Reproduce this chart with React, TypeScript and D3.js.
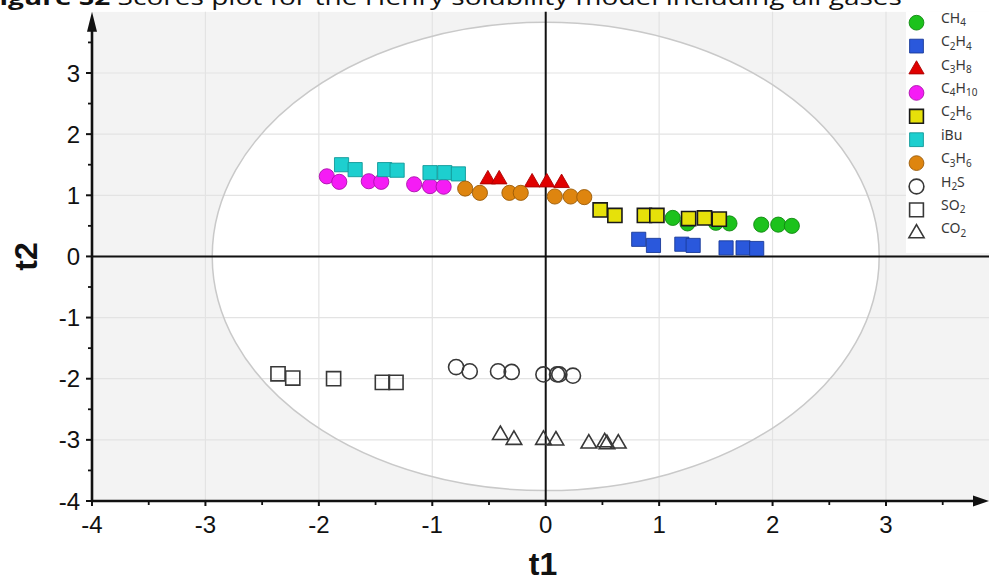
import * as d3 from "d3";

// scores [t1, t2]
const ch4 = [[1.12, 0.63], [1.25, 0.54], [1.5, 0.55], [1.62, 0.54], [1.9, 0.52], [2.05, 0.52], [2.17, 0.5]];
const c2h4 = [[0.82, 0.28], [0.95, 0.18], [1.2, 0.2], [1.3, 0.18], [1.59, 0.14], [1.74, 0.14], [1.86, 0.13]];
const c3h8 = [[-0.51, 1.26], [-0.41, 1.26], [-0.12, 1.21], [0.01, 1.21], [0.14, 1.2]];
const c4h10 = [[-1.93, 1.31], [-1.82, 1.22], [-1.56, 1.23], [-1.45, 1.22], [-1.16, 1.18], [-1.02, 1.15], [-0.9, 1.14]];
const c2h6 = [[0.48, 0.76], [0.61, 0.67], [0.87, 0.67], [0.98, 0.67], [1.26, 0.62], [1.4, 0.63], [1.53, 0.61]];
const ibu = [[-1.8, 1.5], [-1.68, 1.42], [-1.42, 1.42], [-1.31, 1.41], [-1.02, 1.37], [-0.89, 1.37], [-0.77, 1.35]];
const c3h6 = [[-0.71, 1.11], [-0.58, 1.04], [-0.32, 1.04], [-0.22, 1.04], [0.08, 0.98], [0.22, 0.98], [0.34, 0.97]];
const h2s = [[-0.79, -1.81], [-0.67, -1.88], [-0.42, -1.88], [-0.3, -1.89], [-0.02, -1.93], [0.1, -1.93], [0.12, -1.93], [0.24, -1.95]];
const so2 = [[-2.36, -1.92], [-2.23, -1.99], [-1.87, -2.0], [-1.44, -2.06], [-1.32, -2.06]];
const co2 = [[-0.4, -2.92], [-0.28, -3.0], [-0.02, -3.0], [0.09, -3.01], [0.38, -3.06], [0.52, -3.04], [0.54, -3.07], [0.64, -3.06]];

const xTicks = [-4, -3, -2, -1, 0, 1, 2, 3];
const yTicks = [-4, -3, -2, -1, 0, 1, 2, 3];
// Hotelling T2 ellipse half axes
const ellipseRadii = [2.94, 3.83];

const series = [
  { name: "CH4", data: ch4, shape: d3.symbolCircle, fill: "#1cc21c", stroke: "#118811" },
  { name: "C2H4", data: c2h4, shape: d3.symbolSquare, fill: "#2a58dc", stroke: "#1a3a99" },
  { name: "C3H8", data: c3h8, shape: d3.symbolTriangle, fill: "#e00000", stroke: "#aa0000" },
  { name: "C4H10", data: c4h10, shape: d3.symbolCircle, fill: "#f51cf5", stroke: "#aa10aa" },
  { name: "C2H6", data: c2h6, shape: d3.symbolSquare, fill: "#e6e10a", stroke: "#1a1a1a" },
  { name: "iBu", data: ibu, shape: d3.symbolSquare, fill: "#1dcfcf", stroke: "#119999" },
  { name: "C3H6", data: c3h6, shape: d3.symbolCircle, fill: "#de850f", stroke: "#9a5a08" },
  { name: "H2S", data: h2s, shape: d3.symbolCircle, fill: "none", stroke: "#383838" },
  { name: "SO2", data: so2, shape: d3.symbolSquare, fill: "none", stroke: "#383838" },
  { name: "CO2", data: co2, shape: d3.symbolTriangle, fill: "none", stroke: "#383838" },
];

const W = 989;
const H = 579;

const x = d3.scaleLinear().domain([-4, 3]).range([92, 886]);
const y = d3.scaleLinear().domain([-4, 3]).range([501, 73]);

const symSize = (shape: any) =>
  shape === d3.symbolCircle ? 180 : shape === d3.symbolSquare ? 200 : 105;

function Formula({ label, xPos, yPos }: { label: string; xPos: number; yPos: number }) {
  const parts = label.split(/(\d+)/).filter((p) => p !== "");
  return (
    <text x={xPos} y={yPos} dy="0.35em" fontSize={14} fill="#383838" fontFamily="'Noto Sans', sans-serif">
      {parts.map((p, i) =>
        /^\d+$/.test(p) ? (
          <tspan key={i} fontSize={10} dy={3.5}>{p}</tspan>
        ) : (
          <tspan key={i} dy={i > 0 && /^\d+$/.test(parts[i - 1]) ? -3.5 : 0}>{p}</tspan>
        )
      )}
    </text>
  );
}

export default function App() {
  const top = y(4);
  const right = W;
  const legendY = d3.scaleLinear().domain([0, series.length - 1]).range([22.7, 233.3]);

  return (
    <svg width={W} height={H} style={{ position: "absolute", left: 0, top: 0, background: "#fff" }}
      fontFamily="'Liberation Sans', Arial, sans-serif">
      {/* title, cut off at the top of the picture */}
      <text x={-16} y={5} fontSize={22} fill="#111" fontFamily="'Open Sans', sans-serif"
        textLength={918} lengthAdjust="spacingAndGlyphs">
        <tspan fontWeight="bold">Figure S2</tspan>
        <tspan> Scores plot for the Henry solubility model including all gases</tspan>
      </text>

      {/* plot background and confidence ellipse */}
      <rect x={x(-4)} y={top} width={right - x(-4)} height={y(-4) - top} fill="#f3f3f3" />
      <ellipse cx={x(0)} cy={y(0)} rx={x(ellipseRadii[0]) - x(0)} ry={y(0) - y(ellipseRadii[1])} fill="#fff" />

      {/* grid */}
      {xTicks.filter((t) => t > -4).map((t) => (
        <line key={`gx${t}`} x1={x(t)} x2={x(t)} y1={top} y2={y(-4)} stroke="#e3e3e3" strokeWidth={1.2} />
      ))}
      {yTicks.filter((t) => t > -4).map((t) => (
        <line key={`gy${t}`} x1={x(-4)} x2={right} y1={y(t)} y2={y(t)} stroke="#e3e3e3" strokeWidth={1.2} />
      ))}
      <ellipse cx={x(0)} cy={y(0)} rx={x(ellipseRadii[0]) - x(0)} ry={y(0) - y(ellipseRadii[1])}
        fill="none" stroke="#c9c9c9" strokeWidth={1.5} />

      {/* legend box */}
      <rect x={906} y={top} width={right - 906} height={253 - top} fill="#fff" />

      {/* zero lines */}
      <line x1={x(-4)} x2={right} y1={y(0)} y2={y(0)} stroke="#111" strokeWidth={2} />
      <line x1={x(0)} x2={x(0)} y1={top} y2={y(-4)} stroke="#111" strokeWidth={2} />

      {/* points */}
      {series.map((s) => (
        <g key={s.name}>
          {s.data.map((d, i) => (
            <path key={i} transform={`translate(${x(d[0])},${y(d[1])})`}
              d={d3.symbol().type(s.shape).size(symSize(s.shape))() || ""}
              fill={s.fill} stroke={s.stroke}
              strokeWidth={s.fill === "none" ? 1.6 : s.name === "C2H6" ? 1.6 : 0.9} />
          ))}
        </g>
      ))}

      {/* legend */}
      {series.map((s, i) => (
        <g key={`lg${s.name}`}>
          <path transform={`translate(916.5,${legendY(i)})`}
            d={d3.symbol().type(s.shape).size(symSize(s.shape) * 0.95)() || ""}
            fill={s.fill} stroke={s.stroke}
            strokeWidth={s.fill === "none" ? 1.6 : s.name === "C2H6" ? 1.6 : 0.9} />
          <Formula label={s.name} xPos={941} yPos={legendY(i)} />
        </g>
      ))}

      {/* axes */}
      <line x1={x(-4)} x2={right - 12} y1={y(-4)} y2={y(-4)} stroke="#111" strokeWidth={2.6} />
      <path d={`M${right},${y(-4)} L${right - 16},${y(-4) - 5.5} L${right - 16},${y(-4) + 5.5} Z`} fill="#111" />
      <line x1={x(-4)} x2={x(-4)} y1={y(-4)} y2={top + 14} stroke="#111" strokeWidth={2.6} />
      <path d={`M${x(-4)},${top} L${x(-4) - 5},${top + 20} L${x(-4) + 5},${top + 20} Z`} fill="#111" />

      {xTicks.map((t) => (
        <g key={`tx${t}`}>
          <line x1={x(t)} x2={x(t)} y1={y(-4)} y2={y(-4) + 5} stroke="#111" strokeWidth={2} />
          <text x={x(t)} y={533} textAnchor="middle" fontSize={24} fill="#111">{t}</text>
        </g>
      ))}
      {d3.range(-3.5, 3.9, 1).map((t) => (
        <line key={`mx${t}`} x1={x(t)} x2={x(t)} y1={y(-4)} y2={y(-4) + 4} stroke="#111" strokeWidth={1.8} />
      ))}
      {yTicks.map((t) => (
        <g key={`ty${t}`}>
          <line x1={x(-4) - 6} x2={x(-4)} y1={y(t)} y2={y(t)} stroke="#111" strokeWidth={2} />
          <text x={80} y={y(t)} dy="0.36em" textAnchor="end" fontSize={24} fill="#111">{t}</text>
        </g>
      ))}
      {d3.range(-3.5, 3.6, 1).map((t) => (
        <line key={`my${t}`} x1={x(-4) - 4} x2={x(-4)} y1={y(t)} y2={y(t)} stroke="#111" strokeWidth={1.8} />
      ))}

      {/* axis titles */}
      <text x={543} y={575} textAnchor="middle" fontSize={32} fontWeight="bold" fill="#111">t1</text>
      <text transform={`translate(37,${y(0)}) rotate(-90)`} textAnchor="middle" fontSize={32}
        fontWeight="bold" fill="#111">t2</text>
    </svg>
  );
}
